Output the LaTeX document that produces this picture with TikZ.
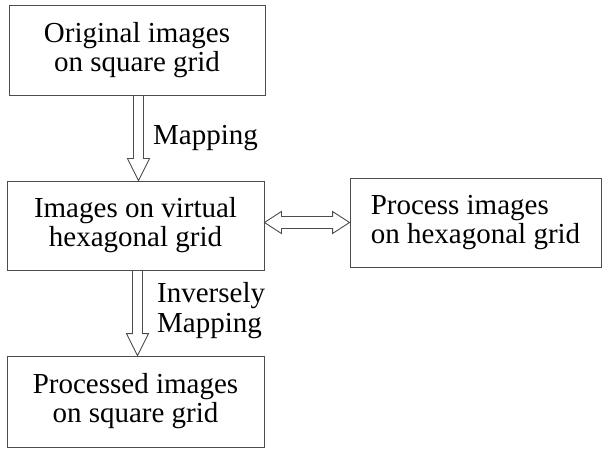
\documentclass[tikz,border=0pt]{standalone}
\usepackage{fontspec}
\setmainfont{Liberation Serif}
\usepackage{tikz}
\usetikzlibrary{shapes,arrows,positioning,calc}
\tikzstyle{box} = [rectangle, draw=black!70, line width=0.9pt, align=center, inner sep=0pt, font=\fontsize{29}{29}\selectfont]
\tikzstyle{lbl} = [anchor=west, align=left, inner sep=0pt, font=\fontsize{29}{30}\selectfont]
\tikzstyle{downarrow} = [draw=black!70, line width=0.9pt, to path={let \p1=(\tikztostart), \p2=(\tikztotarget) in (\x1-5pt,\y1) -- (\x1-5pt,\y2+22pt) -- (\x1-11pt,\y2+22pt) -- (\x1,\y2) -- (\x1+11pt,\y2+22pt) -- (\x1+5pt,\y2+22pt) -- (\x1+5pt,\y1)}]
\tikzstyle{lrarrow} = [draw=black!70, line width=0.9pt, to path={let \p1=(\tikztostart), \p2=(\tikztotarget) in (\x1,\y1) -- (\x1+17pt,\y1+11pt) -- (\x1+17pt,\y1+6pt) -- (\x2-17pt,\y1+6pt) -- (\x2-17pt,\y1+11pt) -- (\x2,\y1) -- (\x2-17pt,\y1-11pt) -- (\x2-17pt,\y1-6pt) -- (\x1+17pt,\y1-6pt) -- (\x1+17pt,\y1-11pt) -- cycle}]

\begin{document}
\begin{tikzpicture}[x=1pt, y=-1pt]
			\useasboundingbox (0,0) rectangle (602,449);
			\node [box, minimum width=256pt, minimum height=90pt] (orig) at (137, 50) {Original images\\on square grid};
			\node [box, minimum width=257pt, minimum height=89pt] (virt) at (135.5, 225.5) {Images on virtual\\hexagonal grid};
			\node [box, minimum width=251pt, minimum height=89pt, align=left] (proc) at (475.5, 222.5) {Process images\\on hexagonal grid};
			\node [box, minimum width=257pt, minimum height=91pt] (outp) at (135.5, 401.5) {Processed images\\on square grid};
			
			\node [lbl] (map) at (153, 138) {Mapping};
			\node [lbl] (invmap) at (157, 311) {Inversely\\Mapping};
			
			\path [downarrow] ([xshift=1.5pt]orig.south) to ([xshift=1.5pt]orig.south |- virt.north);
			\path [downarrow] ([xshift=2pt]virt.south) to ([xshift=2pt]virt.south |- outp.north);
			\path [lrarrow] (virt.east |- proc.west) to (proc.west);
		\end{tikzpicture}
\end{document}
